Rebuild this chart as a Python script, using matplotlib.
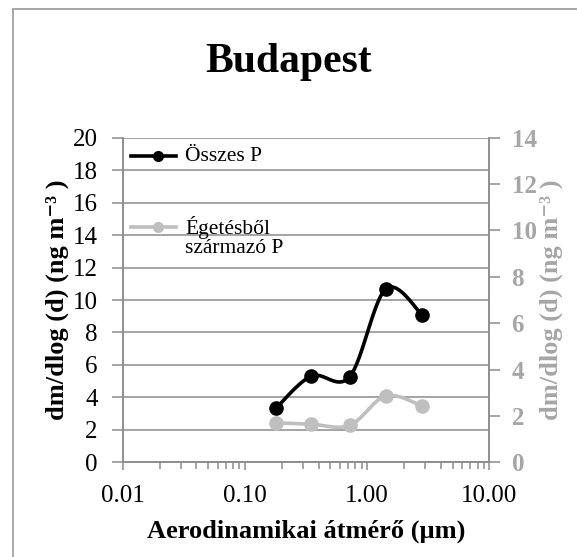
import numpy as np
import matplotlib
matplotlib.use("Agg")
import matplotlib.pyplot as plt
from matplotlib.patches import Rectangle
from matplotlib.ticker import FixedLocator, LogLocator, NullFormatter

plt.rcParams['font.family'] = ['Liberation Serif', 'DejaVu Serif']

# data
diameter = [0.18, 0.35, 0.72, 1.42, 2.83]
osszes_p = [3.35, 5.32, 5.28, 10.68, 9.08]
egetes_p = [1.71, 1.65, 1.60, 2.87, 2.43]
left_ticks = [0, 2, 4, 6, 8, 10, 12, 14, 16, 18, 20]
right_ticks = [0, 2, 4, 6, 8, 10, 12, 14]
x_ticks = [0.01, 0.1, 1, 10]
x_labels = ["0.01", "0.10", "1.00", "10.00"]

grid_c = "#8c8c8c"
light = "#bfbfbf"
right_c = "#a6a6a6"

AX_W, AX_H = 366.6, 325.0


def smooth(xs, ys, ymax, n=30):
    # Catmull-Rom in pixel space (log x), like Excel smoothed lines
    u = (np.log10(xs) + 2) / 3.0 * AX_W
    v = np.asarray(ys) / ymax * AX_H
    p = np.column_stack([u, v])
    p = np.vstack([p[0], p, p[-1]])
    out = []
    for i in range(1, len(p) - 2):
        p0, p1, p2, p3 = p[i - 1], p[i], p[i + 1], p[i + 2]
        t = np.linspace(0, 1, n)[:, None]
        seg = 0.5 * ((2 * p1) + (-p0 + p2) * t + (2 * p0 - 5 * p1 + 4 * p2 - p3) * t ** 2
                     + (-p0 + 3 * p1 - 3 * p2 + p3) * t ** 3)
        out.append(seg)
    out = np.vstack(out)
    return 10 ** (out[:, 0] / AX_W * 3 - 2), out[:, 1] / AX_H * ymax


fig = plt.figure(figsize=(5.77, 5.57), dpi=100)
ax = fig.add_axes([0.2127, 0.1697, 0.6354, 0.5834])
ax2 = ax.twinx()

ax.set_xscale("log")
ax.set_xlim(0.01, 10)
ax.set_ylim(0, 20)
ax2.set_ylim(0, 14)

ax.set_yticks(left_ticks)
ax.yaxis.grid(True, color=grid_c, lw=1.1)
ax.set_axisbelow(True)
ax.xaxis.set_major_locator(FixedLocator(x_ticks))
ax.set_xticklabels(x_labels)
ax.xaxis.set_minor_locator(LogLocator(base=10, subs=np.arange(2, 10)))
ax.xaxis.set_minor_formatter(NullFormatter())
ax2.set_yticks(right_ticks)

for a in (ax, ax2):
    for s in a.spines.values():
        s.set_color(grid_c)
        s.set_linewidth(1.1)
    a.spines['top'].set_visible(False)

ax.tick_params(axis='y', direction='out', length=8, width=1.1, color=grid_c,
               labelsize=18, pad=10)
ax.tick_params(axis='x', which='major', direction='out', length=6, width=1.1, color=grid_c,
               labelsize=18, pad=10)
ax.tick_params(axis='x', which='minor', direction='out', length=5, width=1.1, color=grid_c)
ax2.tick_params(axis='y', direction='out', length=8, width=1.1, color=grid_c,
                labelsize=18, pad=8, labelcolor=right_c)
for lbl in ax2.get_yticklabels():
    lbl.set_fontweight('bold')

# series
sx, sy = smooth(diameter, osszes_p, 20)
ax.plot(sx, sy, color="black", lw=2.6, zorder=3)
ax.plot(diameter, osszes_p, 'o', color="black", ms=9.5, zorder=4)
gx, gy = smooth(diameter, egetes_p, 14)
ax2.plot(gx, gy, color=light, lw=2.6, zorder=3)
ax2.plot(diameter, egetes_p, 'o', color=light, ms=9.5, zorder=4)

# legend drawn by hand
ax.plot([0.022, 0.145], [0.942, 0.942], transform=ax.transAxes, color="black", lw=2.6, clip_on=False)
ax.plot([0.0965], [0.942], 'o', transform=ax.transAxes, color="black", ms=7, clip_on=False)
ax.text(0.17, 0.942, "Összes P", transform=ax.transAxes, fontsize=15.5, va='center', ha='left')
ax.plot([0.022, 0.145], [0.725, 0.725], transform=ax.transAxes, color=light, lw=2.6, clip_on=False)
ax.plot([0.0965], [0.725], 'o', transform=ax.transAxes, color=light, ms=7, clip_on=False)
ax.text(0.17, 0.722, "Égetésből", transform=ax.transAxes, fontsize=15.5, va='center', ha='left')
ax.text(0.17, 0.658, "származó P", transform=ax.transAxes, fontsize=15.5, va='center', ha='left')

ylab = "dm/dlog (d) (ng m\u207b\u00b3 )"
ax.set_xlabel("Aerodinamikai átmérő (µm)", fontsize=19, fontweight='bold', labelpad=9)
ax.set_ylabel(ylab, fontsize=19, fontweight='bold', labelpad=3)
ax2.set_ylabel(ylab, fontsize=19, fontweight='bold', color=right_c, labelpad=2)

fig.text(0.5, 1 - 62 / 557, "Budapest", fontsize=30, fontweight='bold', ha='center', va='center')

fig.patches.append(Rectangle((13 / 577, -0.2), 1.5, 1.2 - 9 / 557, transform=fig.transFigure,
                             fill=False, ec="#a0a0a0", lw=1.3))

fig.savefig("out.png", dpi=100)
